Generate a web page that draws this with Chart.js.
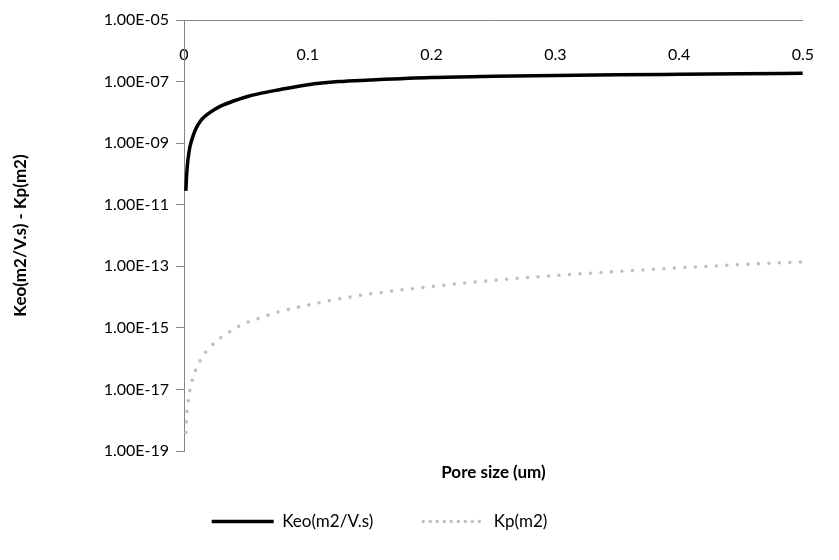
<!DOCTYPE html>
<html>
<head>
<meta charset="utf-8">
<script src="https://cdn.jsdelivr.net/npm/chart.js@4"></script>
<style>
	html, body { margin: 0; padding: 0; background: #fff; }
	#wrap { width: 839px; height: 560px; }
</style>
</head>
<body>
<div id="wrap"><canvas id="chart"></canvas></div>
<script>
// Pore size (um) sampled along both curves
const poreSize = [0.0015, 0.002, 0.0025, 0.003, 0.004, 0.005, 0.0075, 0.01, 0.0125, 0.015, 0.02, 0.025, 0.03, 0.04,
	0.05, 0.06, 0.075, 0.1, 0.125, 0.15, 0.2, 0.25, 0.3, 0.35, 0.4, 0.45, 0.5];

// Keo (m2/V.s)
const keoValues = [2.8e-11, 7.6e-11, 1.48e-10, 2.5e-10, 5e-10, 8.3e-10, 1.82e-9, 3.16e-9, 4.7e-9, 6.3e-9, 9.3e-9, 1.26e-8, 1.62e-8, 2.34e-8,
	3.16e-8, 3.98e-8, 5.25e-8, 7.9e-8, 1e-7, 1.12e-7, 1.35e-7, 1.48e-7, 1.58e-7, 1.66e-7, 1.73e-7, 1.8e-7, 1.86e-7];

// Kp (m2)
const kpValues = [4e-19, 1.1e-18, 2e-18, 3e-18, 6e-18, 1.05e-17, 2.7e-17, 4.8e-17, 7.8e-17, 1.2e-16, 2.1e-16, 3.4e-16, 4.9e-16, 8.9e-16,
	1.45e-15, 2e-15, 3.2e-15, 5.5e-15, 8.7e-15, 1.26e-14, 2.2e-14, 3.5e-14, 5e-14, 6.8e-14, 8.9e-14, 1.13e-13, 1.4e-13];

const xTickValues = [0, 0.1, 0.2, 0.3, 0.4, 0.5];
const yTickValues = [1e-19, 1e-17, 1e-15, 1e-13, 1e-11, 1e-9, 1e-7, 1e-5];

const FONT = 'Lato, "Open Sans", sans-serif';

// Excel style scientific label, e.g. 1.00E-05
function sciLabel(v) {
	const exp = Math.round(Math.log10(v));
	const sign = exp < 0 ? '-' : '+';
	return '1.00E' + sign + String(Math.abs(exp)).padStart(2, '0');
}

function toPoints(xs, ys) {
	return xs.map((x, i) => ({x: x, y: ys[i]}));
}

// move the legend to where the original one sits
const legendShift = {
	id: 'legendShift',
	afterLayout(chart) {
		const lg = chart.legend;
		lg.left -= 33;
		lg.right -= 33;
		lg.top -= 20;
		lg.bottom -= 20;
	}
};

const ctx = document.getElementById('chart').getContext('2d');
const chart = new Chart(ctx, {
	type: 'line',
	data: {
		datasets: [{
			label: 'Keo(m2/V.s)',
			data: toPoints(poreSize, keoValues),
			borderColor: '#000000',
			backgroundColor: '#000000',
			borderWidth: 3.5,
			pointRadius: 0,
			cubicInterpolationMode: 'monotone',
			xAxisID: 'x',
			yAxisID: 'y'
		}, {
			label: 'Kp(m2)',
			data: toPoints(poreSize, kpValues),
			borderColor: '#BFBFBF',
			backgroundColor: '#BFBFBF',
			borderWidth: 3.5,
			borderDash: [0.01, 10.5],
			borderCapStyle: 'round',
			pointRadius: 0,
			cubicInterpolationMode: 'monotone',
			xAxisID: 'x',
			yAxisID: 'y'
		}]
	},
	options: {
		responsive: true,
		maintainAspectRatio: false,
		animation: false,
		layout: { padding: { left: 0, right: 14, top: 0, bottom: 0 } },
		scales: {
			x: {
				type: 'linear',
				position: 'top',
				min: 0,
				max: 0.5,
				afterBuildTicks: (scale) => { scale.ticks = xTickValues.map(v => ({value: v})); },
				afterFit: (scale) => { scale.height = 20; },
				grid: { display: true, drawOnChartArea: false, drawTicks: false },
				border: { display: true, color: '#868686', width: 1 },
				ticks: {
					mirror: true,
					padding: 25,
					color: '#000',
					font: { family: FONT, size: 16 },
					maxRotation: 0,
					callback: (v) => String(Math.round(v * 10) / 10)
				}
			},
			x2: {
				type: 'linear',
				position: 'bottom',
				min: 0,
				max: 0.5,
				afterFit: (scale) => { scale.height = 32; },
				grid: { display: false },
				border: { display: false },
				ticks: { display: false },
				title: {
					display: true,
					text: 'Pore size (um)',
					color: '#000',
					font: { family: FONT, size: 17, weight: 'bold' },
					padding: { top: 0, bottom: 0 }
				}
			},
			y: {
				type: 'logarithmic',
				min: 1e-19,
				max: 1e-5,
				afterBuildTicks: (scale) => { scale.ticks = yTickValues.map(v => ({value: v})); },
				afterFit: (scale) => { scale.width = 184; },
				grid: { display: true, drawOnChartArea: false, drawTicks: true, tickLength: 8, color: '#868686' },
				border: { display: true, color: '#868686', width: 1 },
				ticks: {
					padding: 7,
					color: '#000',
					font: { family: FONT, size: 16 },
					callback: (v) => sciLabel(v)
				},
				title: {
					display: true,
					text: 'Keo(m2/V.s) - Kp(m2)',
					color: '#000',
					font: { family: FONT, size: 17, weight: 'bold' },
					padding: { top: 10, bottom: 0 }
				}
			}
		},
		plugins: {
			legend: {
				position: 'bottom',
				labels: {
					usePointStyle: true,
					pointStyle: 'line',
					pointStyleWidth: 62,
					boxWidth: 62,
					boxHeight: 17,
					padding: 50,
					color: '#000',
					font: { family: FONT, size: 17 },
					generateLabels: (chart) => chart.data.datasets.map((ds, i) => ({
						text: ds.label,
						fillStyle: ds.borderColor,
						strokeStyle: ds.borderColor,
						lineWidth: ds.borderWidth,
						lineDash: i === 1 ? [0.01, 7] : [],
						lineCap: i === 1 ? 'round' : 'butt',
						pointStyle: 'line',
						datasetIndex: i
					}))
				}
			},
			tooltip: { enabled: false }
		}
	},
	plugins: [legendShift]
});
</script>
</body>
</html>
